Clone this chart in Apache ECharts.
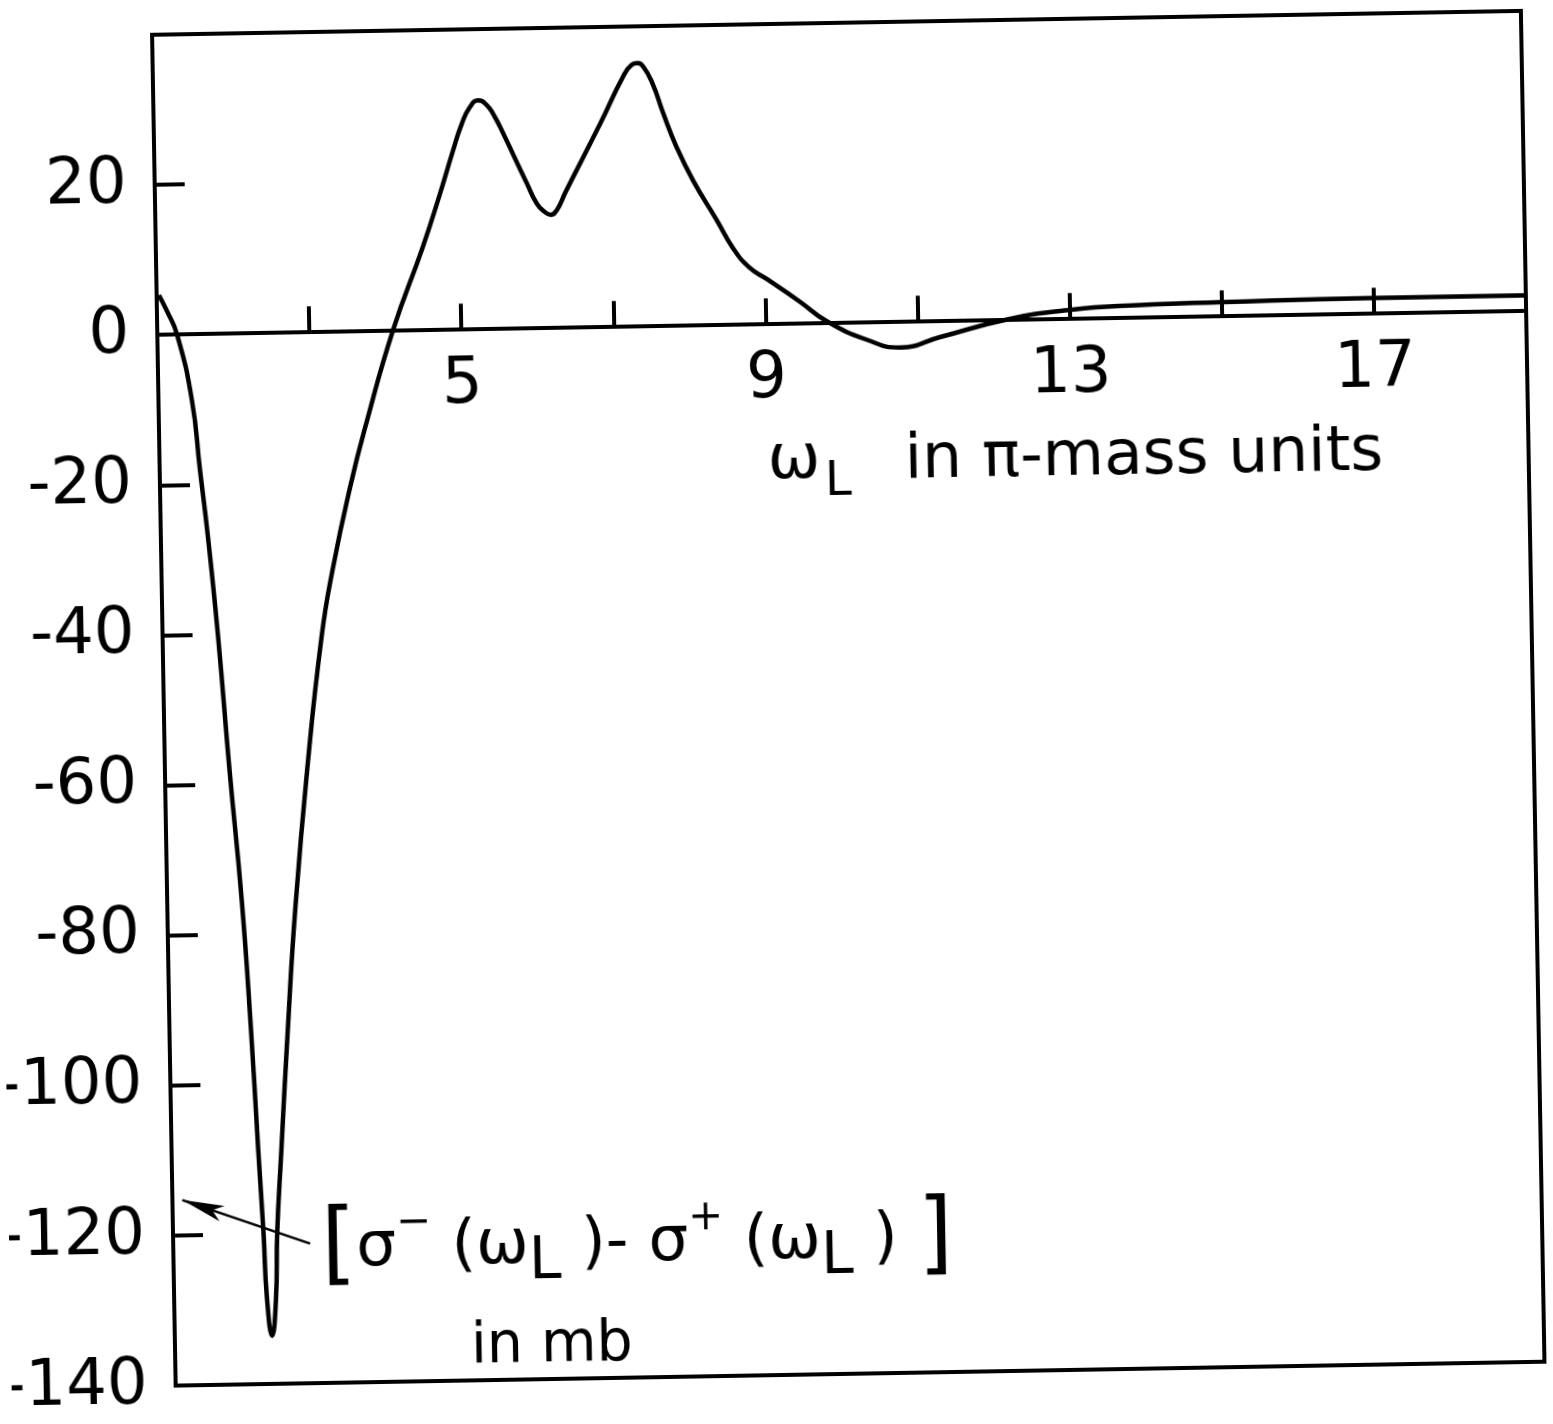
<!DOCTYPE html>
<html>
<head>
<meta charset="utf-8">
<title>sigma difference</title>
<script src="https://cdn.jsdelivr.net/npm/echarts@6/dist/echarts.min.js"></script>
<style>
    html, body { margin: 0; padding: 0; background: #fff; overflow: hidden; }
    #chart { width: 1553px; height: 1424px; transform: rotate(-1deg); }
</style>
</head>
<body>
<div id="chart"></div>
<script>
// omega_L (pi-mass units)
var omegaL = [1.03, 1.13, 1.26, 1.44, 1.53, 1.62, 1.73, 1.85, 1.98, 2.07,
    2.14, 2.19, 2.22, 2.28, 2.34, 2.37, 2.44, 2.56, 2.68, 2.87,
    3.09, 3.25, 3.50, 3.74, 4.10, 4.51, 4.75, 4.93, 5.05, 5.16,
    5.27, 5.38, 5.48, 5.60, 5.72, 5.89, 6.02, 6.12, 6.20, 6.28,
    6.40, 6.87, 7.18, 7.30, 7.37, 7.45, 7.57, 7.70, 7.87, 8.08,
    8.38, 8.59, 8.80, 9.03, 9.46, 9.80, 10.33, 10.76, 11.29, 12.18,
    12.98, 13.92, 14.98, 16.95, 19.0];
// sigma-(wL) - sigma+(wL), mb
var sigmaDiff = [5.3, 3.2, 0, -8.8, -18.1, -27.1, -40.4, -58.2, -75.5, -92.3,
    -108.9, -119.9, -128.5, -133.6, -128.5, -119.9, -109.4, -92.3, -77, -58.3,
    -40.6, -31.7, -20.7, -11.8, 0.1, 11.1, 18.2, 23.9, 27.4, 29.6,
    30.5, 29.9, 28.4, 25.9, 23.2, 19.4, 16.6, 15.5, 15.1, 15.7,
    18.1, 27.1, 33.3, 34.9, 35.1, 34.6, 32.3, 28.4, 23.8, 19.3,
    14.0, 10.2, 7.6, 6.0, 2.9, 0.3, -2.3, -3.4, -2.1, 0.1,
    1.2, 1.7, 1.9, 2.1, 2.1];

var xTicks = [3, 5, 7, 9, 11, 13, 15, 17];
var xLabels = [5, 9, 13, 17];
var yTicks = [20, -20, -40, -60, -80, -100, -120];
var yLabels = [20, 0, -20, -40, -60, -80, -100, -120, -140];
var yMin = -140, yMax = 40;

// pointer from the label to the curve
var pointerFrom = [2.80, -121.4];
var pointerTo = [1.13, -115.3];

var points = [];
for (var i = 0; i < omegaL.length; i++) {
    points.push([omegaL[i], sigmaDiff[i]]);
}

var FONT = 'DejaVu Sans';
var GRID_TOP = 24, GRID_BOTTOM = 49, H = 1424;
// the omega axis sits on y = 0: shift it up from the grid bottom
var plotH = H - GRID_TOP - GRID_BOTTOM;
var zeroShift = plotH * (0 - yMin) / (yMax - yMin);

var chart = echarts.init(document.getElementById('chart'));

chart.setOption({
    animation: false,
    backgroundColor: '#fff',
    grid: {
        left: 164,
        right: 20,
        top: GRID_TOP,
        bottom: GRID_BOTTOM,
        show: true,
        borderColor: '#000',
        borderWidth: 4,
        outerBoundsMode: 'none'
    },
    xAxis: {
        type: 'value',
        min: 1,
        max: 19,
        position: 'bottom',
        offset: -zeroShift,
        axisLine: { onZero: false, lineStyle: { color: '#000', width: 4 } },
        axisTick: {
            inside: true, length: 26, customValues: xTicks,
            lineStyle: { color: '#000', width: 4 }
        },
        axisLabel: {
            customValues: xLabels, margin: 24,
            color: '#000', fontFamily: FONT, fontSize: 64
        },
        splitLine: { show: false }
    },
    yAxis: {
        type: 'value',
        min: yMin,
        max: yMax,
        axisLine: { show: true, lineStyle: { color: '#000', width: 4 } },
        axisTick: {
            inside: true, length: 30, customValues: yTicks,
            lineStyle: { color: '#000', width: 4 }
        },
        axisLabel: {
            customValues: yLabels, margin: 28,
            color: '#000', fontFamily: FONT, fontSize: 64
        },
        splitLine: { show: false }
    },
    series: [
        {
            type: 'line',
            data: points,
            smooth: 0.5,
            showSymbol: false,
            lineStyle: { color: '#000', width: 4.5 },
            markLine: {
                silent: true,
                label: { show: false },
                lineStyle: { color: '#000', width: 2.5, type: 'solid' },
                data: [[
                    { coord: pointerFrom, symbol: 'none' },
                    { coord: pointerTo, symbol: 'arrow', symbolSize: [12, 42] }
                ]]
            }
        }
    ],
    graphic: [
        {
            type: 'text', left: 772, top: 430,
            style: { text: 'ω', fontFamily: FONT, fontSize: 63, fill: '#000' }
        },
        {
            type: 'text', left: 829, top: 460,
            style: { text: 'L', fontFamily: FONT, fontSize: 48, fill: '#000' }
        },
        {
            type: 'text', left: 909, top: 432,
            style: { text: 'in π-mass units', fontFamily: FONT, fontSize: 63, fill: '#000' }
        },
        {
            type: 'text', left: 312, top: 1196,
            style: {
                text: '{br|[}{m|σ}{sp|−}{m| (ω}{sb|L}{m| )- σ}{sp|+}{m| (ω}{sb|L}{m| ) }{br|]}',
                fontFamily: FONT, fontSize: 63, fill: '#000',
                rich: {
                    br: { fontFamily: FONT, fontSize: 90, lineHeight: 92 },
                    m: { fontFamily: FONT, fontSize: 63 },
                    sp: { fontFamily: FONT, fontSize: 42, verticalAlign: 'top' },
                    sb: { fontFamily: FONT, fontSize: 58, verticalAlign: 'bottom' }
                }
            }
        },
        {
            type: 'text', left: 460, top: 1314,
            style: { text: 'in mb', fontFamily: FONT, fontSize: 57, fill: '#000' }
        }
    ]
});

window.onresize = function () {
    chart.resize();
};
</script>
</body>
</html>
